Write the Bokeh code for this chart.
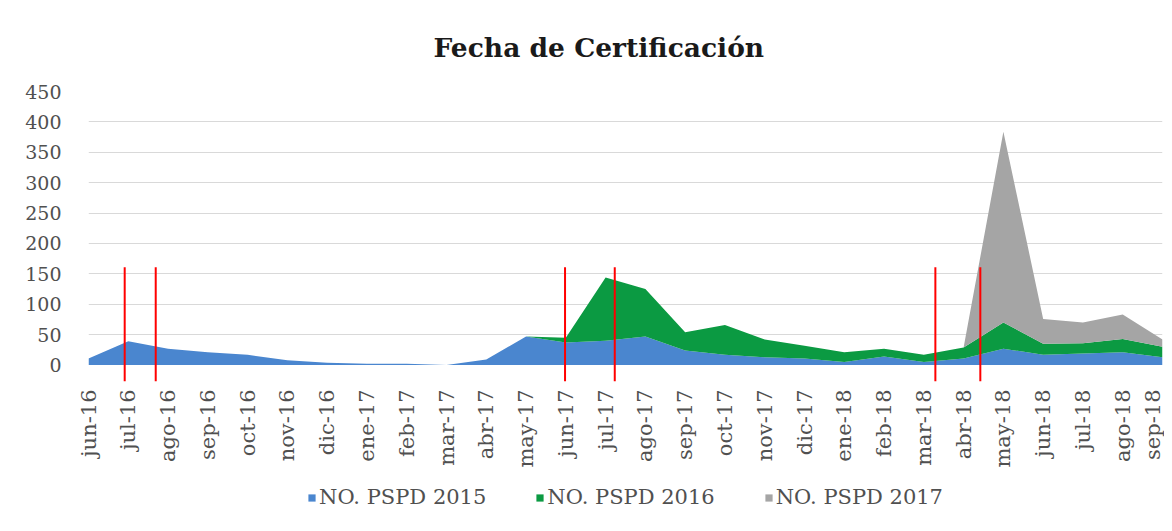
import math
from bokeh.plotting import figure
from bokeh.layouts import column
from bokeh.models import ColumnDataSource, FixedTicker, Legend, LegendItem, Range1d
from bokeh.embed import file_html
from bokeh.resources import INLINE

# ---- data ----
months = ["jun-16", "jul-16", "ago-16", "sep-16", "oct-16", "nov-16", "dic-16",
          "ene-17", "feb-17", "mar-17", "abr-17", "may-17", "jun-17", "jul-17",
          "ago-17", "sep-17", "oct-17", "nov-17", "dic-17", "ene-18", "feb-18",
          "mar-18", "abr-18", "may-18", "jun-18", "jul-18", "ago-18", "sep-18"]
pspd_2015 = [11, 39, 27, 21, 17, 8, 4, 2, 2, 0, 9, 47, 37, 40,
             47, 24, 17, 13, 11, 5, 14, 5, 11, 27, 17, 19, 21, 13]
pspd_2016 = [0, 0, 0, 0, 0, 0, 0, 0, 0, 0, 0, 0, 8, 104,
             78, 30, 49, 29, 21, 16, 13, 12, 18, 43, 18, 17, 22, 17]
pspd_2017 = [0, 0, 0, 0, 0, 0, 0, 0, 0, 0, 0, 0, 0, 0,
             0, 0, 0, 0, 0, 0, 0, 0, 0, 314, 41, 34, 40, 12]
series_names = ["NO. PSPD 2015", "NO. PSPD 2016", "NO. PSPD 2017"]
# red marker lines (position in months since jun-16)
marker_months = [0.91, 1.69, 11.98, 13.23, 21.29, 22.42]
marker_top = 161
y_ticks = list(range(0, 451, 50))

colors = ["#4a86cf", "#0b9a42", "#a5a5a5"]
label_color = "#505050"

idx = list(range(len(months)))
src = ColumnDataSource(dict(x=idx, a=pspd_2015, b=pspd_2016, c=pspd_2017))

p = figure(width=1164, height=478, output_backend="svg", toolbar_location=None,
           x_range=Range1d(0, len(months) - 1), y_range=Range1d(-27, 450),
           min_border_left=88, min_border_right=2, min_border_top=91,
           min_border_bottom=97)
p.outline_line_color = None
p.background_fill_color = "white"

rs = p.varea_stack(["a", "b", "c"], x="x", color=colors, source=src)

p.segment(x0=marker_months, y0=[-27] * len(marker_months),
          x1=marker_months, y1=[marker_top] * len(marker_months),
          line_color="#ff0000", line_width=2)

# title
p.title.text = "Fecha de Certificación"
p.title.align = "left"
p.title.offset = 345
p.title.text_font = "DejaVu Serif"
p.title.text_font_style = "bold"
p.title.text_font_size = "26.5px"
p.title.text_color = "#1a1a1a"
p.title.standoff = 58

# axes
p.xaxis.ticker = FixedTicker(ticks=idx)
p.xaxis.major_label_overrides = {i: m for i, m in zip(idx, months)}
p.xaxis.major_label_orientation = math.pi / 2
p.xaxis.axis_line_color = None
p.xaxis.major_tick_line_color = None
p.xaxis.minor_tick_line_color = None
p.xaxis.major_label_text_font = "DejaVu Serif"
p.xaxis.major_label_text_font_size = "21px"
p.xaxis.major_label_text_color = label_color
p.xaxis.major_label_standoff = 2

p.yaxis.ticker = FixedTicker(ticks=y_ticks)
p.yaxis.axis_line_color = None
p.yaxis.major_tick_line_color = None
p.yaxis.minor_tick_line_color = None
p.yaxis.major_label_text_font = "DejaVu Serif"
p.yaxis.major_label_text_font_size = "19px"
p.yaxis.major_label_text_color = label_color
p.yaxis.major_label_standoff = 21

p.xgrid.grid_line_color = None
p.ygrid.ticker = FixedTicker(ticks=y_ticks[1:])
p.ygrid.grid_line_color = "#d9d9d9"
p.ygrid.grid_line_width = 1

# legend in a separate strip below
lg = figure(width=1164, height=38, output_backend="svg", toolbar_location=None,
            x_range=Range1d(0, 1), y_range=Range1d(0, 1),
            min_border=0, min_border_left=0, min_border_right=0,
            min_border_top=0, min_border_bottom=0)
lg.axis.visible = False
lg.grid.visible = False
lg.outline_line_color = None
offscreen = ColumnDataSource(dict(x=[5, 6], y1=[5, 5], y2=[6, 6]))
items = []
for n, c in zip(series_names, colors):
    r = lg.varea(x="x", y1="y1", y2="y2", fill_color=c, source=offscreen)
    items.append(LegendItem(label=n, renderers=[r]))
legend = Legend(items=items, orientation="horizontal", location="center")
legend.label_text_font = "DejaVu Serif"
legend.label_text_font_size = "21px"
legend.label_text_color = label_color
legend.glyph_width = 9
legend.glyph_height = 9
legend.label_standoff = 3
legend.spacing = 49
legend.border_line_color = None
legend.background_fill_alpha = 0
legend.padding = 0
legend.margin = 0
lg.add_layout(legend, "center")

open("out.html", "w").write(file_html(column(p, lg, spacing=0), INLINE))
